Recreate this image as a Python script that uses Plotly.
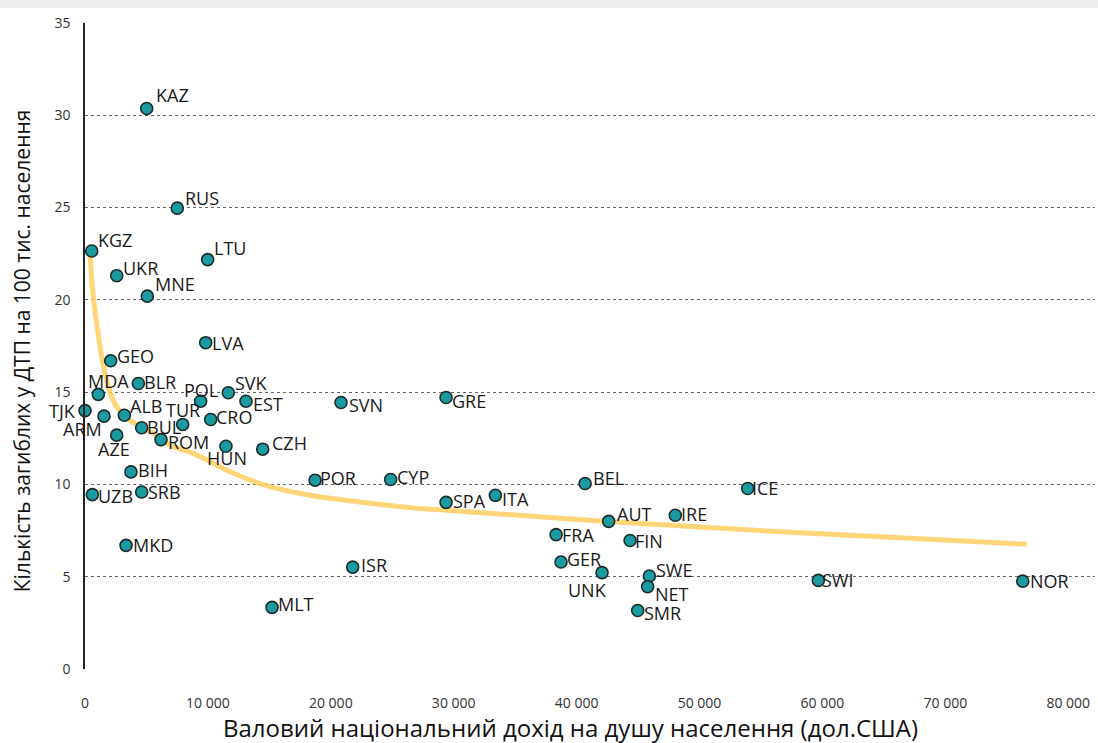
import plotly.graph_objects as go

# Country codes, gross national income per capita (USD) and road deaths per 100k
codes = ["KAZ", "RUS", "KGZ", "UKR", "MNE", "LTU", "LVA", "GEO", "MDA", "BLR",
         "POL", "SVK", "EST", "TJK", "ARM", "ALB", "AZE", "BUL", "TUR", "CRO",
         "ROM", "HUN", "CZH", "BIH", "SRB", "UZB", "MKD", "MLT", "SVN", "GRE",
         "POR", "CYP", "BEL", "SPA", "ITA", "AUT", "IRE", "FRA", "FIN", "GER",
         "UNK", "SWE", "NET", "SMR", "ISR", "ICE", "SWI", "NOR"]
gni = [5020, 7510, 545, 2580, 5070, 9980, 9820, 2090, 1085, 4340,
       9410, 11660, 13100, 0, 1546, 3200, 2580, 4610, 7950, 10230,
       6185, 11470, 14460, 3740, 4610, 600, 3340, 15220, 20830, 29380,
       18720, 24870, 40690, 29380, 33390, 42610, 48030, 38330, 44350, 38730,
       42070, 45920, 45780, 44970, 21780, 53920, 59670, 76300]
deaths = [30.37, 24.97, 22.65, 21.31, 20.2, 22.18, 17.68, 16.7, 14.88, 15.47,
          14.51, 14.97, 14.51, 14.0, 13.7, 13.75, 12.67, 13.07, 13.25, 13.52,
          12.43, 12.07, 11.91, 10.68, 9.59, 9.45, 6.7, 3.34, 14.44, 14.71,
          10.23, 10.27, 10.05, 9.03, 9.41, 8.0, 8.33, 7.28, 6.96, 5.8,
          5.22, 5.04, 4.46, 3.17, 5.52, 9.78, 4.8, 4.76]

# Trend curve sampled along its course
trend_x = [400, 625, 950, 1360, 1900, 2580, 3660, 5020, 6100, 6920, 8810,
           11530, 14240, 18310, 22380, 27260, 29430, 41900, 55470, 76620]
trend_y = [22.53, 20.54, 18.73, 16.92, 15.29, 14.2, 13.48, 12.94, 12.58, 12.13,
           11.68, 10.77, 10.05, 9.41, 9.05, 8.69, 8.6, 8.02, 7.48, 6.76]

# Axis ticks
x_ticks = [0, 10000, 20000, 30000, 40000, 50000, 60000, 70000, 80000]
x_tick_text = ["0", "10 000", "20 000", "30 000", "40 000", "50 000",
               "60 000", "70 000", "80 000"]
y_ticks = [0, 5, 10, 15, 20, 25, 30, 35]

# Label placement: (anchor, dx px, dy px downward)
label_pos = {
    "KAZ": ("left", 7, -13), "RUS": ("left", 6, -10), "KGZ": ("left", 4, -11),
    "UKR": ("left", 4, -8), "MNE": ("left", 6, -12), "LTU": ("left", 4, -12),
    "LVA": ("left", 4, 0), "GEO": ("left", 4, -5), "MDA": ("center", 10, -13),
    "BLR": ("left", 4, -1), "POL": ("center", 0, -11), "SVK": ("left", 5, -10),
    "EST": ("left", 5, 3), "TJK": ("right", -7, 0), "ARM": ("right", 0, 13),
    "ALB": ("left", 4, -9), "AZE": ("center", -3, 14), "BUL": ("left", 3, -1),
    "TUR": ("center", 0, -14), "CRO": ("left", 3, -2), "ROM": ("left", 5, 2),
    "HUN": ("center", 1, 12), "CZH": ("left", 7, -6), "BIH": ("left", 5, -2),
    "SRB": ("left", 4, 0), "UZB": ("left", 4, 1), "MKD": ("left", 5, 0),
    "MLT": ("left", 4, -3), "SVN": ("left", 6, 3), "GRE": ("left", 4, 3),
    "POR": ("left", 3, -2), "CYP": ("left", 4, -2), "BEL": ("left", 6, -6),
    "SPA": ("left", 5, -1), "ITA": ("left", 5, 4), "AUT": ("left", 6, -7),
    "IRE": ("left", 4, -1), "FRA": ("left", 4, 0), "FIN": ("left", 3, 0),
    "GER": ("left", 4, -3), "UNK": ("center", -15, 17), "SWE": ("left", 5, -6),
    "NET": ("left", 5, 7), "SMR": ("left", 4, 3), "ISR": ("left", 6, -2),
    "ICE": ("left", 2, 0), "SWI": ("left", 2, 0), "NOR": ("left", 5, 0),
}

fig = go.Figure()

fig.add_trace(go.Scatter(
    x=trend_x, y=trend_y, mode="lines",
    line=dict(color="rgba(255,206,95,0.85)", width=5, shape="spline", smoothing=1.0),
    hoverinfo="skip", showlegend=False,
))

fig.add_trace(go.Scatter(
    x=gni, y=deaths, mode="markers",
    marker=dict(size=12, color="#1a9ba1", line=dict(color="#1c2b2c", width=1.6)),
    cliponaxis=False, showlegend=False,
    text=codes, hovertemplate="%{text}: %{x}, %{y}<extra></extra>",
))

annotations = []
for c, xv, yv in zip(codes, gni, deaths):
    anchor, dx, dy = label_pos[c]
    annotations.append(dict(
        x=xv, y=yv, xref="x", yref="y", text=c, showarrow=False,
        xanchor=anchor, yanchor="middle", xshift=dx, yshift=-dy,
        font=dict(family="Open Sans", size=18, color="#1a1a1a"),
    ))

annotations.append(dict(
    text="Валовий національний дохід на душу населення (дол.США)",
    xref="paper", yref="paper", x=0.481, y=-0.091, showarrow=False,
    xanchor="center", yanchor="middle",
    font=dict(family="Open Sans", size=24, color="#111111"),
))
annotations.append(dict(
    text="Кількість загиблих у ДТП на 100 тис. населення",
    xref="paper", yref="paper", x=-0.0624, y=0.4934, showarrow=False,
    xanchor="center", yanchor="middle", textangle=-90,
    font=dict(family="Open Sans", size=21, color="#111111"),
))

fig.update_layout(
    width=1098, height=743,
    margin=dict(l=85, r=3, t=23, b=74),
    paper_bgcolor="white", plot_bgcolor="white",
    annotations=annotations,
    shapes=[dict(type="rect", xref="paper", yref="paper",
                 x0=-0.09, x1=1.01, y0=1.0235, y1=1.04,
                 fillcolor="#eeeeee", line=dict(width=0), layer="below")],
    xaxis=dict(
        range=[0, 82180], tickvals=x_ticks, ticktext=x_tick_text,
        showgrid=False, zeroline=False, showline=False,
        ticks="", ticklabelstandoff=24,
        tickfont=dict(family="Open Sans", size=14, color="#333333"),
    ),
    yaxis=dict(
        range=[0, 35], tickvals=y_ticks,
        showgrid=True, gridcolor="#666666", griddash="dot", gridwidth=1,
        zeroline=False, showline=True, linecolor="#222222", linewidth=1.5,
        ticks="", ticklabelstandoff=10,
        tickfont=dict(family="Open Sans", size=14, color="#333333"),
    ),
)

fig.write_html("out.html")
